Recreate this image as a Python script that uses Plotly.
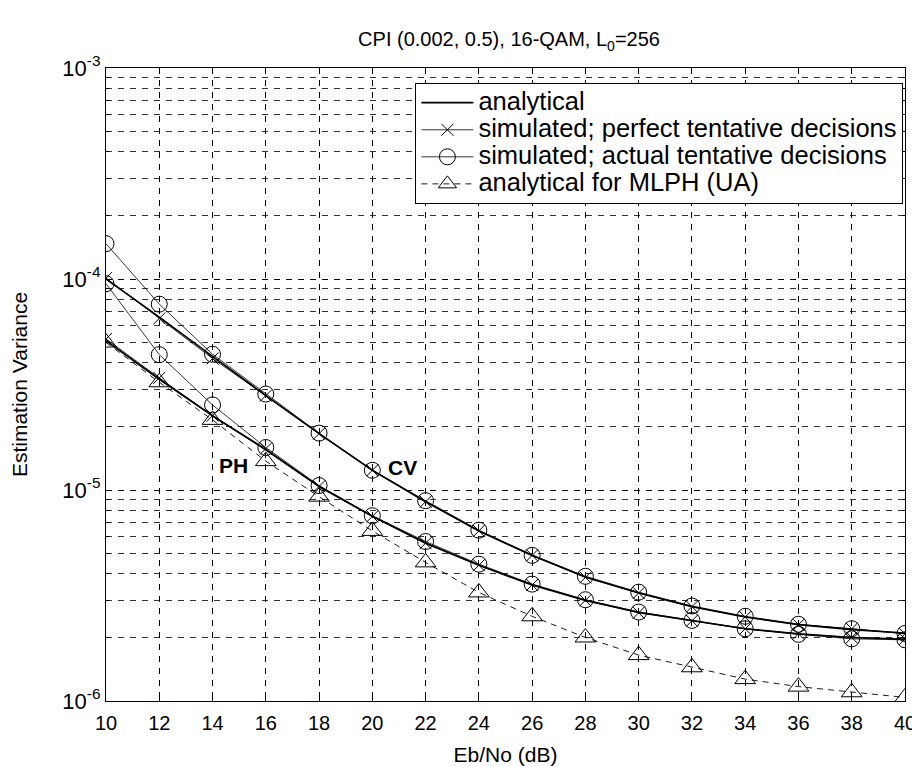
import plotly.graph_objects as go

# ---------------- data ----------------
ebno = [10, 12, 14, 16, 18, 20, 22, 24, 26, 28, 30, 32, 34, 36, 38, 40]

cv_analytical = [1.0e-4, 6.6e-5, 4.3e-5, 2.8e-5, 1.85e-5, 1.24e-5, 8.8e-6, 6.4e-6,
                 4.9e-6, 3.87e-6, 3.25e-6, 2.8e-6, 2.5e-6, 2.3e-6, 2.18e-6, 2.1e-6]
cv_perfect = [1.01e-4, 6.5e-5, 4.2e-5, 2.8e-5, 1.85e-5, 1.24e-5, 8.8e-6, 6.4e-6,
              4.9e-6, 3.85e-6, 3.25e-6, 2.8e-6, 2.5e-6, 2.3e-6, 2.2e-6, 2.08e-6]
cv_actual = [1.47e-4, 7.6e-5, 4.4e-5, 2.85e-5, 1.86e-5, 1.24e-5, 8.9e-6, 6.45e-6,
             4.9e-6, 3.9e-6, 3.28e-6, 2.82e-6, 2.52e-6, 2.31e-6, 2.2e-6, 2.09e-6]

ph_analytical = [5.1e-5, 3.35e-5, 2.25e-5, 1.55e-5, 1.04e-5, 7.5e-6, 5.6e-6, 4.4e-6,
                 3.55e-6, 3.0e-6, 2.63e-6, 2.4e-6, 2.2e-6, 2.08e-6, 2.0e-6, 1.96e-6]
ph_perfect = [5.2e-5, 3.4e-5, 2.25e-5, 1.57e-5, 1.04e-5, 7.5e-6, 5.6e-6, 4.4e-6,
              3.55e-6, 3.0e-6, 2.62e-6, 2.4e-6, 2.2e-6, 2.08e-6, 2.0e-6, 1.97e-6]
ph_actual = [9.5e-5, 4.38e-5, 2.53e-5, 1.59e-5, 1.05e-5, 7.55e-6, 5.7e-6, 4.45e-6,
             3.58e-6, 3.02e-6, 2.64e-6, 2.41e-6, 2.2e-6, 2.07e-6, 1.97e-6, 1.95e-6]

mlph_analytical = [5.0e-5, 3.24e-5, 2.15e-5, 1.37e-5, 9.3e-6, 6.4e-6, 4.54e-6, 3.27e-6,
                   2.52e-6, 2.0e-6, 1.65e-6, 1.445e-6, 1.27e-6, 1.17e-6, 1.1e-6, 1.04e-6]

legend_names = ["analytical",
                "simulated; perfect tentative decisions",
                "simulated; actual tentative decisions",
                "analytical for MLPH (UA)"]

x_ticks = list(range(10, 41, 2))
y_decades = [-6, -5, -4, -3]

# ---------------- figure ----------------
FONT = "Liberation Sans, Arial, sans-serif"
fig = go.Figure()

def big(t):
    # larger legend text while keeping matlab-like tight row spacing
    return f'<span style="font-size:25.5px">{t}</span>'

def add(y, name, show, mode, width, marker=None, dash="solid"):
    kw = dict(x=ebno, y=y, name=big(name), showlegend=show, legendgroup=name,
              mode=mode, line=dict(color="black", width=width, dash=dash))
    if marker:
        kw["marker"] = marker
    fig.add_trace(go.Scatter(**kw))

mk_x = dict(symbol="x-thin-open", size=12, color="black", line=dict(color="black", width=1))
mk_o = dict(symbol="circle-open", size=16, color="black", line=dict(color="black", width=1))
mk_t = dict(symbol="triangle-up-open", size=18, color="black", line=dict(color="black", width=1))

add(cv_analytical, legend_names[0], True, "lines", 1.7)
add(cv_perfect, legend_names[1], True, "lines+markers", 0.8, mk_x)
add(cv_actual, legend_names[2], True, "lines+markers", 0.8, mk_o)
add(mlph_analytical, legend_names[3], True, "lines+markers", 0.9, mk_t, dash="6px,5px")
add(ph_analytical, legend_names[0], False, "lines", 1.7)
add(ph_perfect, legend_names[1], False, "lines+markers", 0.8, mk_x)
add(ph_actual, legend_names[2], False, "lines+markers", 0.8, mk_o)

# major ticks at powers of ten, minor grid at 2..9 x decade
major_vals = [10.0 ** d for d in y_decades]
major_text = [f"10<sup>{d}</sup>" for d in y_decades]
minor_vals = [m * 10.0 ** d for d in y_decades[:-1] for m in range(2, 10)]

fig.add_annotation(x=14.8, y=-4.886, xref="x", yref="y",
                   text="<b>PH</b>", showarrow=False,
                   font=dict(family=FONT, size=21, color="black"))
fig.add_annotation(x=21.15, y=-4.893, xref="x", yref="y",
                   text="<b>CV</b>", showarrow=False,
                   font=dict(family=FONT, size=21, color="black"))

fig.update_layout(
    width=920, height=767,
    margin=dict(l=98, r=14, t=60, b=69),
    paper_bgcolor="white", plot_bgcolor="white",
    font=dict(family=FONT, size=20, color="black"),
    title=dict(text="CPI (0.002, 0.5), 16-QAM, L<sub>0</sub>=256",
               x=0.5446, xanchor="center", y=0.959, yanchor="middle",
               font=dict(family=FONT, size=20, color="black")),
    legend=dict(x=0.998, xanchor="right", y=0.976, yanchor="top",
                bgcolor="white", bordercolor="black", borderwidth=1,
                font=dict(family=FONT, size=18.5, color="black"),
                tracegroupgap=0, itemwidth=52),
    showlegend=True,
)

grid_common = dict(showline=True, linecolor="black", linewidth=1.2, mirror="ticks",
                   ticks="inside", ticklen=5, tickcolor="black",
                   showgrid=True, gridcolor="black", gridwidth=0.8, griddash="6px,6px",
                   zeroline=False)

fig.update_xaxes(
    range=[10, 40], tickvals=x_ticks, ticktext=[str(v) for v in x_ticks],
    title=dict(text="Eb/No (dB)", font=dict(family=FONT, size=21), standoff=14),
    tickfont=dict(family=FONT, size=20), ticklabelstandoff=4,
    **grid_common,
)
fig.update_yaxes(
    type="log", range=[-6, -3], tickvals=major_vals, ticktext=major_text,
    minor=dict(tickvals=minor_vals, ticks="inside", ticklen=3, tickcolor="black",
               showgrid=True, gridcolor="#333333", gridwidth=0.8, griddash="6px,6px"),
    title=dict(text="Estimation Variance", font=dict(family=FONT, size=21), standoff=28),
    tickfont=dict(family=FONT, size=22),
    **grid_common,
)

fig.write_html("out.html")
